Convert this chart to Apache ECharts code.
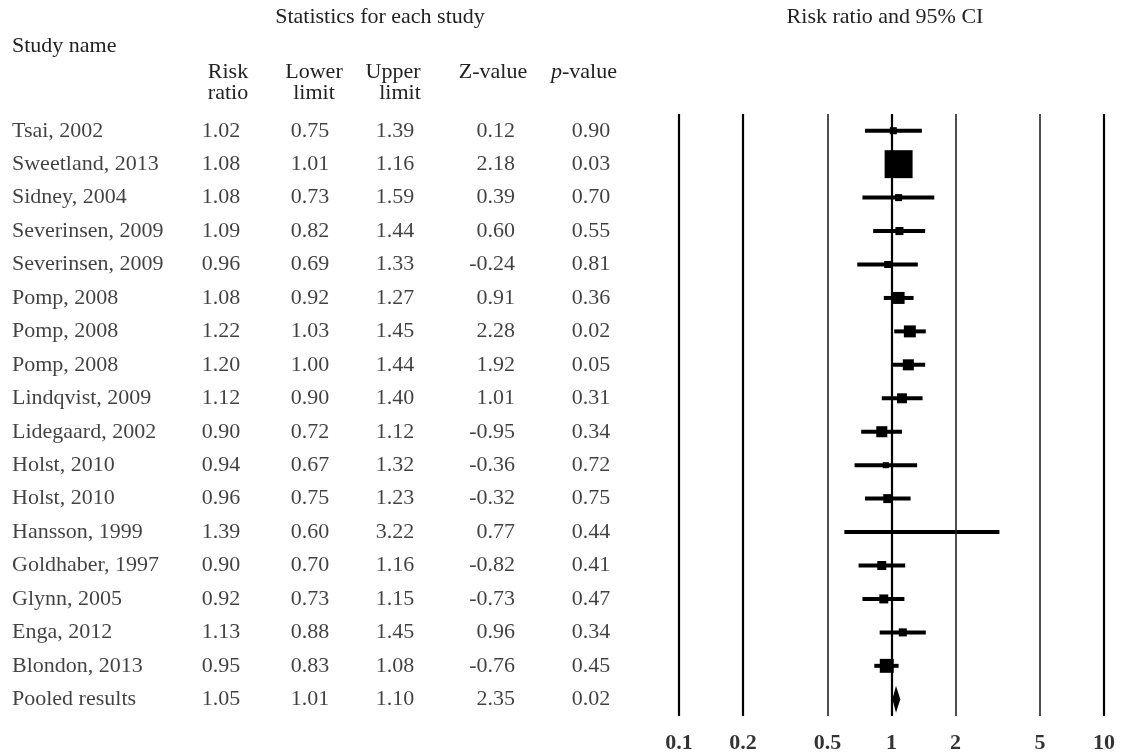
<!DOCTYPE html>
<html>
<head>
<meta charset="utf-8">
<script src="https://cdn.jsdelivr.net/npm/echarts@6.0.0/dist/echarts.min.js"></script>
<style>
  html, body { margin: 0; padding: 0; background: #fff; }
  #main { width: 1124px; height: 754px; }
</style>
</head>
<body>
<div id="main"></div>
<script>
var studies = ['Tsai, 2002', 'Sweetland, 2013', 'Sidney, 2004', 'Severinsen, 2009', 'Severinsen, 2009',
  'Pomp, 2008', 'Pomp, 2008', 'Pomp, 2008', 'Lindqvist, 2009', 'Lidegaard, 2002', 'Holst, 2010',
  'Holst, 2010', 'Hansson, 1999', 'Goldhaber, 1997', 'Glynn, 2005', 'Enga, 2012', 'Blondon, 2013',
  'Pooled results'];
var riskRatio = [1.02, 1.08, 1.08, 1.09, 0.96, 1.08, 1.22, 1.20, 1.12, 0.90, 0.94, 0.96, 1.39, 0.90, 0.92, 1.13, 0.95, 1.05];
var lowerLimit = [0.75, 1.01, 0.73, 0.82, 0.69, 0.92, 1.03, 1.00, 0.90, 0.72, 0.67, 0.75, 0.60, 0.70, 0.73, 0.88, 0.83, 1.01];
var upperLimit = [1.39, 1.16, 1.59, 1.44, 1.33, 1.27, 1.45, 1.44, 1.40, 1.12, 1.32, 1.23, 3.22, 1.16, 1.15, 1.45, 1.08, 1.10];
var zValue = [0.12, 2.18, 0.39, 0.60, -0.24, 0.91, 2.28, 1.92, 1.01, -0.95, -0.36, -0.32, 0.77, -0.82, -0.73, 0.96, -0.76, 2.35];
var pValue = [0.90, 0.03, 0.70, 0.55, 0.81, 0.36, 0.02, 0.05, 0.31, 0.34, 0.72, 0.75, 0.44, 0.41, 0.47, 0.34, 0.45, 0.02];
// relative weight of each study (square area)
var weights = [1.9, 30.1, 1.9, 2.5, 1.9, 5.5, 5.5, 4.7, 3.8, 4.7, 1.4, 3.1, 0.6, 3.1, 3.1, 2.5, 7.5];
var axisTicks = [0.1, 0.2, 0.5, 1, 2, 5, 10];

var serif = "'Liberation Serif', 'Times New Roman', serif";
var rowIdx = studies.map(function (s, i) { return String(i); });

var chartDom = document.getElementById('main');
var myChart = echarts.init(chartDom, null);

// one table column: values, x position, align
function col(values, x, align) {
  return {
    type: 'scatter',
    xAxisIndex: 1,
    yAxisIndex: 1,
    symbolSize: 0,
    silent: true,
    data: values.map(function (v, i) { return [x, String(i), v]; }),
    label: {
      show: true,
      position: 'inside',
      align: align,
      verticalAlign: 'middle',
      formatter: function (p) {
        var v = p.data[2];
        return typeof v === 'number' ? v.toFixed(2) : v;
      },
      color: '#111',
      fontFamily: serif,
      fontSize: 22
    }
  };
}

var forestData = studies.map(function (s, i) {
  return [riskRatio[i], String(i), lowerLimit[i], upperLimit[i], i < weights.length ? weights[i] : -1];
});

function hdr(text, x, y, align) {
  return {
    type: 'text',
    style: {
      x: x, y: y, text: text,
      textAlign: align || 'center',
      textVerticalAlign: 'middle',
      font: '22px ' + serif,
      fill: '#222'
    }
  };
}

var option = {
  animation: false,
  grid: [
    { left: 679, width: 425, top: 114, height: 602 },
    { left: 0, width: 640, top: 114, height: 602 }
  ],
  xAxis: [
    {
      type: 'log',
      gridIndex: 0,
      min: 0.1,
      max: 10,
      logBase: 10,
      axisLine: { show: false },
      axisTick: { show: false },
      splitLine: { show: false },
      axisLabel: { show: false }
    },
    { type: 'value', gridIndex: 1, min: 0, max: 640, show: false }
  ],
  yAxis: [
    { type: 'category', gridIndex: 0, data: rowIdx, inverse: true, show: false },
    { type: 'category', gridIndex: 1, data: rowIdx, inverse: true, show: false }
  ],
  graphic: [
    hdr('Statistics for each study', 380, 17),
    hdr('Risk ratio and 95% CI', 885, 17),
    hdr('Study name', 12, 46, 'left'),
    hdr('Risk', 228, 72),
    hdr('ratio', 228, 93),
    hdr('Lower', 314, 72),
    hdr('limit', 314, 93),
    hdr('Upper', 393, 72),
    hdr('limit', 400, 93),
    hdr('Z-value', 493, 72),
    {
      type: 'text',
      style: {
        x: 584, y: 72, text: '{i|p}-value',
        textAlign: 'center', textVerticalAlign: 'middle',
        font: '22px ' + serif, fill: '#222',
        rich: { i: { fontStyle: 'italic', fontFamily: serif, fontSize: 22, fill: '#222' } }
      }
    }
  ],
  series: [
    {
      type: 'custom',
      xAxisIndex: 0,
      yAxisIndex: 0,
      silent: true,
      data: forestData,
      renderItem: function (params, api) {
        var y = api.coord([1, api.value(1)])[1];
        var c = api.coord([api.value(0), api.value(1)]);
        var lo = api.coord([api.value(2), api.value(1)]);
        var hi = api.coord([api.value(3), api.value(1)]);
        var w = api.value(4);
        if (w < 0) {
          // pooled estimate as a diamond
          var h = 13.5;
          return {
            type: 'polygon',
            shape: { points: [[lo[0], y], [c[0], y - h], [hi[0], y], [c[0], y + h]] },
            style: { fill: '#000' }
          };
        }
        var s = 5.1 * Math.sqrt(w);
        return {
          type: 'group',
          children: [
            {
              type: 'line',
              shape: { x1: lo[0], y1: y, x2: hi[0], y2: y },
              style: { stroke: '#000', lineWidth: 4 }
            },
            {
              type: 'rect',
              shape: { x: c[0] - s / 2, y: y - s / 2, width: s, height: s },
              style: { fill: '#000' }
            }
          ]
        };
      },
      markLine: {
        silent: true,
        symbol: 'none',
        animation: false,
        lineStyle: { color: '#000', type: 'solid', width: 2 },
        label: { show: false },
        data: axisTicks.map(function (v) {
          var thin = (v === 0.5 || v === 2 || v === 5);
          return { xAxis: v, lineStyle: { width: thin ? 1.6 : 2.2, color: thin ? '#222' : '#000' } };
        })
      }
    },
    // x tick labels under the plot, on the same log scale
    {
      type: 'scatter',
      xAxisIndex: 0,
      yAxisIndex: 0,
      symbolSize: 0,
      silent: true,
      data: axisTicks.map(function (v) { return [v, String(studies.length - 1)]; }),
      label: {
        show: true,
        position: 'inside',
        offset: [0, 44],
        formatter: function (p) { return String(p.data[0]); },
        color: '#000',
        fontFamily: serif,
        fontWeight: 'bold',
        fontSize: 22
      }
    },
    col(studies, 12, 'left'),
    col(riskRatio, 221, 'center'),
    col(lowerLimit, 310, 'center'),
    col(upperLimit, 395, 'center'),
    col(zValue, 515, 'right'),
    col(pValue, 591, 'center')
  ]
};

myChart.setOption(option);
</script>
</body>
</html>
